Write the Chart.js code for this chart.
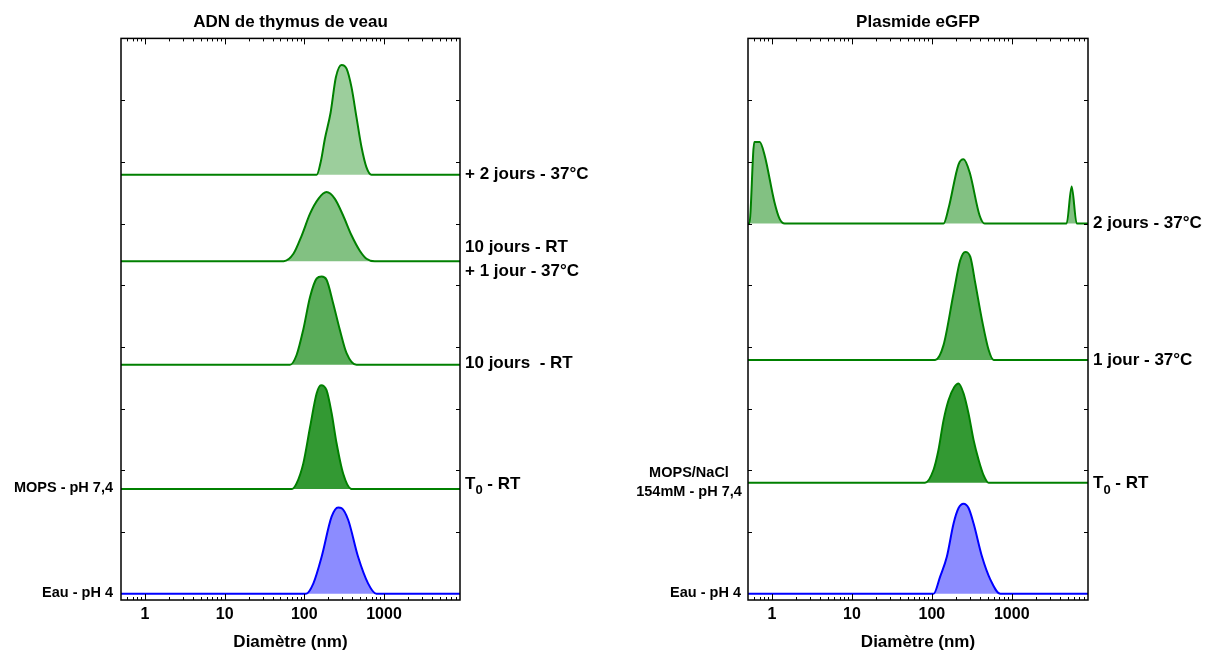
<!DOCTYPE html>
<html>
<head>
<meta charset="utf-8">
<script src="https://cdn.jsdelivr.net/npm/chart.js@4/dist/chart.umd.min.js"></script>
<style>
body { margin: 0; background: #fff; }
#wrap { position: relative; width: 1207px; height: 655px; }
.panel { position: absolute; top: 0; }
#adnPanel { left: 0; }
#plasPanel { left: 600px; }
</style>
</head>
<body>
<div id="wrap">
  <div class="panel" id="adnPanel"><canvas id="adnChart" width="600" height="655"></canvas></div>
  <div class="panel" id="plasPanel"><canvas id="plasChart" width="607" height="655"></canvas></div>
</div>
<script>
// x axis (diametre, nm, log)
const xMin = 0.5;
const xMax = 9000;
const tickValues = [1, 10, 100, 1000];
const tickLabels = ['1', '10', '100', '1000'];

// ---- ADN de thymus de veau ----
const adnEauDiam = [105, 130, 165, 220, 266, 293, 355, 473, 631, 804];
const adnEauInt  = [0, 0.17, 0.6, 1.25, 1.40, 1.39, 1.2, 0.6, 0.17, 0];

const adnT0Diam = [70, 80, 97, 118, 143, 162, 190, 220, 254, 307, 391];
const adnT0Int  = [0, 0.09, 0.41, 1.0, 1.55, 1.68, 1.6, 1.23, 0.74, 0.25, 0];

const adn10jDiam = [66, 80, 97, 118, 143, 165, 190, 230, 279, 339, 452];
const adn10jInt  = [0, 0.16, 0.57, 1.1, 1.4, 1.43, 1.38, 1.0, 0.57, 0.19, 0];

const adn1jDiam = [55, 73, 93, 118, 150, 190, 242, 307, 391, 497, 603, 765];
const adn1jInt  = [0, 0.12, 0.42, 0.77, 1.01, 1.12, 1.01, 0.74, 0.42, 0.17, 0.04, 0];

const adn2jDiam = [143, 162, 181, 214, 249, 293, 339, 391, 452, 522, 603, 696];
const adn2jInt  = [0, 0.23, 0.58, 1.01, 1.58, 1.78, 1.72, 1.42, 0.93, 0.45, 0.12, 0];

const adnOffsets = [0, 1.7, 3.71, 5.39, 6.79];

// ---- Plasmide eGFP ----
const plasEauDiam = [105, 127, 154, 187, 216, 249, 288, 333, 425, 540, 721];
const plasEauInt  = [0, 0.28, 0.6, 1.14, 1.39, 1.46, 1.39, 1.14, 0.6, 0.23, 0];

const plasT0Diam = [82, 105, 121, 140, 162, 191, 216, 249, 288, 333, 385, 445, 514];
const plasT0Int  = [0, 0.21, 0.53, 1.01, 1.34, 1.55, 1.61, 1.45, 1.12, 0.69, 0.37, 0.12, 0];

const plas1jDiam = [110, 140, 187, 226, 262, 303, 350, 425, 514, 594];
const plas1jInt  = [0, 0.24, 1.08, 1.61, 1.75, 1.67, 1.24, 0.64, 0.16, 0];

const plas2jDiam = [0.52, 0.6, 0.7, 0.81, 1.07, 1.24, 1.44, 140, 162, 216, 249, 297, 396, 458, 4860, 5620, 6500];
const plas2jInt  = [0, 1.32, 1.32, 1.1, 0.35, 0.08, 0, 0, 0.25, 0.96, 1.04, 0.83, 0.13, 0, 0, 0.6, 0];

const plasOffsets = [0, 1.8, 3.79, 6.0];

// labels
const adnRightLabels = ['T_0 - RT', '10 jours  - RT', ['10 jours - RT', '+ 1 jour - 37°C'], '+ 2 jours - 37°C'];
const plasRightLabels = ['T_0 - RT', '1 jour - 37°C', '2 jours - 37°C'];

const green = '#008000';
const blue = '#0000ff';

function buildSeries(diam, inten, offset, color, fillColor) {
    const pts = [{x: xMin, y: offset}];
    diam.forEach((d, i) => pts.push({x: d, y: offset + inten[i]}));
    pts.push({x: xMax, y: offset});
    return {
        data: pts,
        borderColor: color,
        backgroundColor: fillColor,
        borderWidth: 2,
        pointRadius: 0,
        fill: {value: offset},
        cubicInterpolationMode: 'monotone'
    };
}

function drawRich(ctx, text, x, y, size) {
    if (text.indexOf('_') < 0) {
        ctx.font = 'bold ' + size + 'px "Liberation Sans", Arial, sans-serif';
        ctx.fillText(text, x, y);
        return;
    }
    const i = text.indexOf('_');
    const main = text.slice(0, i), sub = text.charAt(i + 1), rest = text.slice(i + 2);
    ctx.font = 'bold ' + size + 'px "Liberation Sans", Arial, sans-serif';
    ctx.fillText(main, x, y);
    x += ctx.measureText(main).width;
    ctx.font = 'bold ' + Math.round(size * 0.78) + 'px "Liberation Sans", Arial, sans-serif';
    ctx.fillText(sub, x, y + 7);
    x += ctx.measureText(sub).width;
    ctx.font = 'bold ' + size + 'px "Liberation Sans", Arial, sans-serif';
    ctx.fillText(rest, x, y);
}

const decorPlugin = {
    id: 'decor',
    afterDatasetsDraw(chart, args, opts) {
        const {ctx, chartArea: a, scales: {x, y}} = chart;
        ctx.save();
        ctx.strokeStyle = '#000';
        ctx.lineWidth = 1;
        const line = (x1, y1, x2, y2) => { ctx.beginPath(); ctx.moveTo(x1, y1); ctx.lineTo(x2, y2); ctx.stroke(); };

        // log ticks, inward on top and bottom
        x.ticks.forEach(t => {
            const e = Math.floor(Math.log10(t.value) + 1e-9);
            const sig = t.value / Math.pow(10, e);
            if (Math.abs(sig - Math.round(sig)) > 1e-6) return;
            const px = Math.round(x.getPixelForValue(t.value)) + 0.5;
            if (px <= a.left + 1 || px >= a.right - 1) return;
            const len = Math.round(sig) === 1 ? 6 : 3;
            line(px, a.bottom, px, a.bottom - len);
            line(px, a.top, px, a.top + len);
        });
        // y ticks, inward on both sides
        for (let v = Math.ceil(y.min); v < y.max; v++) {
            if (v <= 0) continue;
            const py = Math.round(y.getPixelForValue(v)) + 0.5;
            line(a.left, py, a.left + 4, py);
            line(a.right, py, a.right - 4, py);
        }
        ctx.lineWidth = 1.5;
        ctx.strokeRect(a.left, a.top, a.right - a.left, a.bottom - a.top);

        // labels
        ctx.fillStyle = '#000';
        ctx.textBaseline = 'middle';
        ctx.textAlign = 'left';
        opts.right.forEach(l => {
            const py = y.getPixelForValue(l.base) + (l.dy || 0);
            drawRich(ctx, l.text, a.right + 5, py, 17);
        });
        opts.left.forEach(l => {
            const py = y.getPixelForValue(l.base);
            ctx.font = 'bold 14.5px "Liberation Sans", Arial, sans-serif';
            ctx.textAlign = l.align;
            l.lines.forEach((s, k) => {
                ctx.fillText(s, a.left - l.dx, py + l.dy[k]);
            });
        });
        ctx.restore();
    }
};

function rightLabelList(labels, offsets, dys) {
    const out = [];
    labels.forEach((lab, i) => {
        const base = offsets[i + 1];
        if (Array.isArray(lab)) {
            out.push({text: lab[0], base: base, dy: -14});
            out.push({text: lab[1], base: base, dy: 10});
        } else {
            out.push({text: lab, base: base, dy: dys[i]});
        }
    });
    return out;
}

function makeOptions(title, padLeft, padRight, rightLabels, leftLabels) {
    return {
        responsive: false,
        animation: false,
        layout: {padding: {left: padLeft, right: padRight, top: 0, bottom: 0}},
        scales: {
            x: {
                type: 'logarithmic',
                min: xMin,
                max: xMax,
                grid: {display: false, drawTicks: false},
                border: {display: false},
                ticks: {
                    autoSkip: false,
                    maxRotation: 0,
                    minRotation: 0,
                    padding: 5,
                    color: '#000',
                    font: {family: '"Liberation Sans", Arial, sans-serif', size: 16, weight: 'bold'},
                    callback: (v) => {
                        const k = tickValues.indexOf(v);
                        return k >= 0 ? tickLabels[k] : '';
                    }
                },
                title: {
                    display: true,
                    text: 'Diamètre (nm)',
                    color: '#000',
                    font: {family: '"Liberation Sans", Arial, sans-serif', size: 17, weight: 'bold'},
                    padding: {top: 0, bottom: 2}
                },
                afterFit: (s) => { s.height = 55; }
            },
            y: {
                display: false,
                min: -0.1,
                max: 9
            }
        },
        plugins: {
            legend: {display: false},
            tooltip: {enabled: false},
            title: {
                display: true,
                text: title,
                color: '#000',
                font: {family: '"Liberation Sans", Arial, sans-serif', size: 17, weight: 'bold'},
                padding: {top: 12, bottom: 6}
            },
            decor: {right: rightLabels, left: leftLabels}
        }
    };
}

new Chart(document.getElementById('adnChart').getContext('2d'), {
    type: 'line',
    data: {
        datasets: [
            buildSeries(adnEauDiam, adnEauInt, adnOffsets[0], blue, 'rgba(0, 0, 255, 0.45)'),
            buildSeries(adnT0Diam, adnT0Int, adnOffsets[1], green, 'rgba(0, 128, 0, 0.8)'),
            buildSeries(adn10jDiam, adn10jInt, adnOffsets[2], green, 'rgba(0, 128, 0, 0.65)'),
            buildSeries(adn1jDiam, adn1jInt, adnOffsets[3], green, 'rgba(0, 128, 0, 0.49)'),
            buildSeries(adn2jDiam, adn2jInt, adnOffsets[4], green, 'rgba(0, 128, 0, 0.39)')
        ]
    },
    options: makeOptions('ADN de thymus de veau', 121, 140,
        rightLabelList(adnRightLabels, adnOffsets, [-5, -2, 0, 0]),
        [
            {lines: ['MOPS - pH 7,4'], base: adnOffsets[1], dx: 8, dy: [-1], align: 'right'},
            {lines: ['Eau - pH 4'], base: adnOffsets[0], dx: 8, dy: [-1], align: 'right'}
        ]),
    plugins: [decorPlugin]
});

new Chart(document.getElementById('plasChart').getContext('2d'), {
    type: 'line',
    data: {
        datasets: [
            buildSeries(plasEauDiam, plasEauInt, plasOffsets[0], blue, 'rgba(0, 0, 255, 0.45)'),
            buildSeries(plasT0Diam, plasT0Int, plasOffsets[1], green, 'rgba(0, 128, 0, 0.8)'),
            buildSeries(plas1jDiam, plas1jInt, plasOffsets[2], green, 'rgba(0, 128, 0, 0.65)'),
            buildSeries(plas2jDiam, plas2jInt, plasOffsets[3], green, 'rgba(0, 128, 0, 0.49)')
        ]
    },
    options: makeOptions('Plasmide eGFP', 148, 119,
        rightLabelList(plasRightLabels, plasOffsets, [1, 0, 0]),
        [
            {lines: ['MOPS/NaCl', '154mM - pH 7,4'], base: plasOffsets[1], dx: 59, dy: [-10, 9], align: 'center'},
            {lines: ['Eau - pH 4'], base: plasOffsets[0], dx: 7, dy: [-1], align: 'right'}
        ]),
    plugins: [decorPlugin]
});
</script>
</body>
</html>
